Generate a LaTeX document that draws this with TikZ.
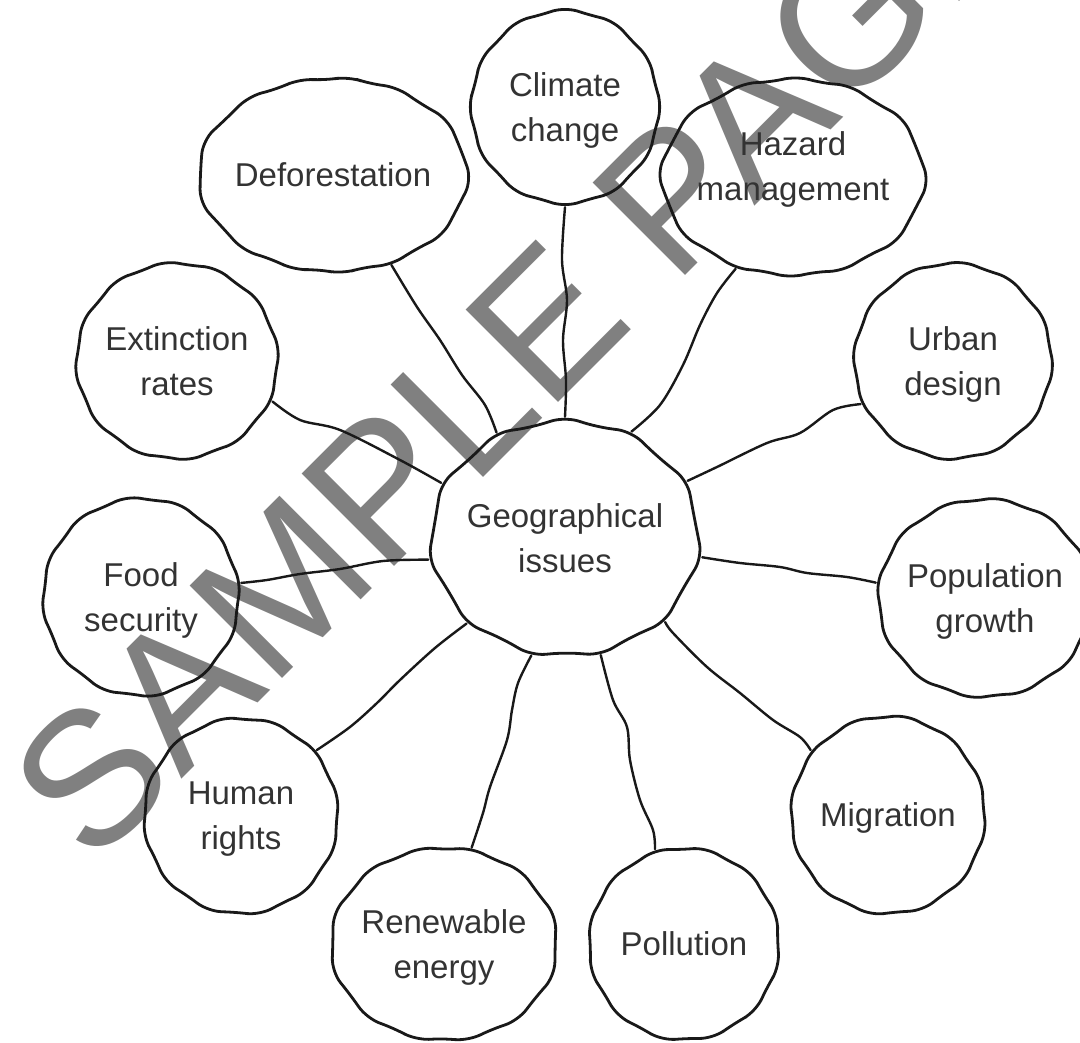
\documentclass[tikz,border=0pt]{standalone}
\usepackage{fontspec}
\setmainfont{Liberation Sans}
\usetikzlibrary{shapes.geometric,calc}

% hand-drawn polygon with rounded corners and slightly hollow sides
% #1 node, #2 number of corners, #3 angle of one corner, #4 inset of the sides
\newcommand{\polyoutline}[4]{%
  \pgfmathtruncatemacro{\polast}{#2-2}%
  \pgfmathtruncatemacro{\postart}{round(#3-180/#2)}%
  \pgfmathtruncatemacro{\poend}{round(#3+(#2-1)*360/#2)}%
  \draw[outline] ($(#1.center)!#4!(#1.\postart)$)
    \foreach \k [evaluate=\k as \va using {int(round(#3+\k*360/#2))},
                 evaluate=\k as \ma using {int(round(#3+\k*360/#2+180/#2))}]
      in {0,...,\polast}
      { -- (#1.\va) -- ($(#1.center)!#4!(#1.\ma)$) }
    -- (#1.\poend) -- cycle;}

\begin{document}
\begin{tikzpicture}[x=1pt, y=-1pt,
  outline/.style={line width=2.8pt, draw=black!90, line join=round,
    rounded corners=14pt},
  link/.style={line width=2.4pt, draw=black!90, line cap=round},
  topic/.style 2 args={ellipse, draw=none, inner sep=0pt, align=center,
    minimum width=#1, minimum height=#2, text=black!80, text depth=0pt,
    font=\fontsize{33}{45}\selectfont},
  watermark/.style={anchor=base, rotate=45, inner sep=0pt, text=black!50,
    font=\fontsize{190}{190}\selectfont}]
\useasboundingbox (0,0) rectangle (1080,1043);

% watermark behind the diagram
\node[watermark] (wm) at (565,396) {SAMPLE PAGE};

% topics
\node[topic={242pt}{242pt}] (G) at (565,538) {Geographical\\issues};
\node[topic={194pt}{200pt}, text depth=-6pt] (C) at (565,107) {Climate\\change};
\node[topic={226pt}{202pt}, text depth=22pt] (H) at (793,177) {Hazard\\management};
\node[topic={256pt}{198pt}] (D) at (333,175) {Deforestation};
\node[topic={208pt}{202pt}] (E) at (177,361) {Extinction\\rates};
\node[topic={202pt}{204pt}] (F) at (141,597) {Food\\security};
\node[topic={200pt}{202pt}, text depth=-6pt] (R) at (241,816) {Human\\rights};
\node[topic={198pt}{198pt}, text depth=-8pt] (N) at (444,944) {Renewable\\energy};
\node[topic={196pt}{198pt}] (P) at (684,944) {Pollution};
\node[topic={200pt}{204pt}] (M) at (888,815) {Migration};
\node[topic={196pt}{204pt}] (O) at (985,598) {Population\\growth};
\node[topic={204pt}{202pt}] (U) at (953,361) {Urban\\design};

% outlines
\polyoutline{G}{11}{25}{0.945}
\polyoutline{C}{12}{270}{0.95}
\polyoutline{H}{12}{238}{0.95}
\polyoutline{D}{13}{303}{0.955}
\polyoutline{E}{12}{337}{0.95}
\polyoutline{F}{12}{8}{0.95}
\polyoutline{R}{12}{41}{0.95}
\polyoutline{N}{12}{74}{0.95}
\polyoutline{P}{12}{107}{0.95}
\polyoutline{M}{12}{140}{0.95}
\polyoutline{O}{12}{172}{0.95}
\polyoutline{U}{12}{205}{0.95}

% connectors from each topic to a corner of the central issue
\draw[link] plot[smooth, tension=0.55] coordinates
  {(C.270) (562,260) (567,300) (563,340) (566,380) (G.90)};
\draw[link] plot[smooth, tension=0.55] coordinates
  {(H.238) (717,293) (700,325) (683,365) (660,405) (G.58)};
\draw[link] plot[smooth, tension=0.55] coordinates
  {(D.303) (417,307) (440,340) (462,375) (485,405) (G.123)};
\draw[link] plot[smooth, tension=0.55] coordinates
  {(E.337) (300,420) (340,430) (400,460) (G.156)};
\draw[link] plot[smooth, tension=0.55] coordinates
  {(F.8) (267,580) (300,574) (340,569) (383,561) (G.189)};
\draw[link] plot[smooth, tension=0.55] coordinates
  {(R.41) (350,727) (377,703) (400,680) (435,648) (G.221)};
\draw[link] plot[smooth, tension=0.55] coordinates
  {(N.74) (483,813) (490,787) (507,740) (512,710) (518,683) (G.254)};
\draw[link] plot[smooth, tension=0.55] coordinates
  {(P.107) (653,830) (640,800) (630,760) (627,727) (613,700) (G.287)};
\draw[link] plot[smooth, tension=0.55] coordinates
  {(M.140) (800,737) (773,720) (740,693) (707,667) (673,633) (G.320)};
\draw[link] plot[smooth, tension=0.55] coordinates
  {(O.172) (847,577) (807,573) (780,567) (740,563) (G.352)};
\draw[link] plot[smooth, tension=0.55] coordinates
  {(U.205) (833,410) (800,433) (767,443) (717,467) (G.25)};
\end{tikzpicture}
\end{document}
